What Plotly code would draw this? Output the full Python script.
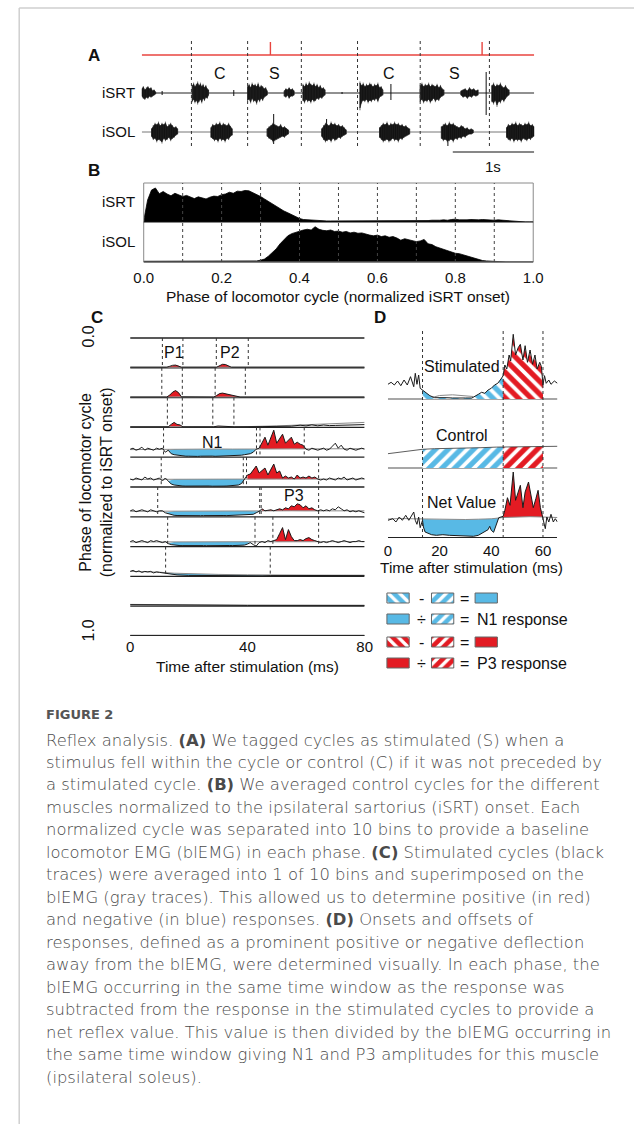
import plotly.graph_objects as go

W, H = 644, 1124
FIG_FONT = "Liberation Sans, Arial, Helvetica, sans-serif"
CAP_FONT = "DejaVu Sans, Open Sans, sans-serif"
BLUE = "#58B9E5"
RED = "#E31B23"
STIM_RED = "#E8453F"
GRAYTR = "#8a8a8a"
INK = "#111111"

# ===================== Panel A data (raw EMG) =====================
A_DURATION = 4.82                     # seconds shown
SCALE_BAR_S = 1.0
STIM_TIMES = [1.58, 4.18]
CYCLE_ONSETS = [0.61, 1.30, 1.96, 2.65, 3.42, 4.27]
CYCLE_TAGS = ["C", "S", "", "C", "S"]

ISRT_ON = [0.00, 0.62, 1.30, 1.75, 1.98, 2.68, 3.42, 3.92, 4.30]
ISRT_OFF = [0.17, 0.82, 1.54, 1.87, 2.25, 2.96, 3.71, 4.13, 4.51]
ISRT_UP = [
    [4, 6, 3, 5, 6, 4, 5, 2, 3, 1],
    [7, 9, 6, 8, 10, 7, 9, 6, 8, 5, 7, 4, 3],
    [6, 8, 5, 9, 7, 8, 6, 9, 5, 7, 6, 4, 5, 2],
    [2, 4, 3, 5, 3, 4, 2],
    [8, 6, 9, 7, 10, 8, 7, 9, 6, 8, 5, 7, 4, 5, 3],
    [10, 7, 9, 6, 8, 7, 9, 8, 6, 8, 7, 9, 5, 6, 3],
    [7, 9, 6, 8, 7, 9, 6, 8, 7, 6, 8, 5, 7, 4, 3],
    [2, 3, 4, 2, 5, 3, 4, 2, 3],
    [7, 9, 6, 8, 7, 9, 6, 5, 7, 4, 3],
]
ISRT_DN = [
    [3, 5, 6, 4, 5, 3, 4, 3, 2, 1],
    [8, 6, 9, 7, 10, 8, 6, 9, 5, 7, 4, 5, 2],
    [7, 6, 9, 5, 8, 7, 10, 6, 8, 5, 7, 4, 3, 2],
    [3, 4, 2, 5, 3, 3, 2],
    [7, 9, 6, 8, 7, 9, 6, 8, 7, 5, 6, 4, 5, 3, 2],
    [15, 9, 7, 8, 6, 9, 7, 8, 6, 7, 5, 8, 4, 3, 2],
    [8, 6, 9, 7, 8, 6, 9, 7, 5, 8, 6, 7, 4, 3, 2],
    [2, 4, 3, 5, 3, 4, 2, 3, 2],
    [8, 10, 7, 12, 8, 9, 6, 8, 5, 3, 2],
]
ISRT_SPIKE_T = [0.25, 1.13, 2.46, 3.06, 4.23]
ISRT_SPIKE_UP = [2, 3, 1, 9, 21]
ISRT_SPIKE_DN = [2, 3, 1, 7, 22]

ISOL_ON = [0.12, 0.85, 1.54, 2.21, 2.92, 3.68, 4.48]
ISOL_OFF = [0.44, 1.11, 1.80, 2.51, 3.29, 4.07, 4.82]
ISOL_UP = [
    [3, 6, 8, 7, 9, 6, 8, 7, 9, 5, 7, 8, 6, 4, 5, 3],
    [4, 7, 6, 8, 7, 9, 6, 8, 7, 6, 8, 5, 3],
    [3, 5, 6, 8, 7, 6, 5, 7, 4, 5, 3, 2],
    [3, 6, 8, 7, 6, 9, 7, 8, 6, 7, 5, 6, 4, 2],
    [4, 6, 8, 7, 9, 6, 8, 7, 9, 7, 8, 6, 7, 5, 6, 4, 3],
    [5, 7, 8, 6, 9, 7, 8, 6, 5, 4, 6, 5, 3, 4, 2, 3, 2],
    [4, 7, 6, 8, 7, 9, 6, 8, 7, 6, 8, 7, 9, 6, 7, 5],
]
ISOL_DN = [
    [4, 7, 6, 9, 7, 8, 10, 6, 8, 7, 5, 8, 6, 5, 3, 2],
    [5, 6, 8, 7, 9, 6, 8, 7, 9, 6, 7, 4, 3],
    [4, 6, 7, 9, 8, 7, 6, 5, 4, 5, 3, 2],
    [4, 7, 9, 8, 7, 9, 6, 8, 7, 5, 6, 4, 3, 2],
    [5, 7, 9, 8, 7, 9, 8, 6, 8, 7, 9, 6, 7, 5, 4, 3, 2],
    [6, 8, 7, 9, 8, 7, 9, 6, 7, 5, 6, 4, 5, 3, 2, 2, 1],
    [5, 7, 8, 6, 9, 7, 8, 7, 9, 6, 7, 8, 6, 7, 5, 4],
]
ISOL_SPIKE_T = [1.62, 2.27, 3.76]
ISOL_SPIKE_UP = [18, 13, 6]
ISOL_SPIKE_DN = [12, 5, 14]

# ===================== Panel B data (averaged control cycle) =====================
B_PHASE = [i / 100 for i in range(101)]
B_ISRT = [
    0.04, 0.62, 0.90, 0.96, 0.80, 0.86, 0.79, 0.74, 0.81, 0.76,
    0.72, 0.75, 0.70, 0.66, 0.71, 0.67, 0.65, 0.70, 0.73, 0.72,
    0.77, 0.79, 0.84, 0.81, 0.87, 0.86, 0.89, 0.88, 0.83, 0.79,
    0.72, 0.65, 0.58, 0.50, 0.44, 0.37, 0.31, 0.26, 0.20, 0.14,
    0.10, 0.07, 0.06, 0.05, 0.04, 0.04, 0.03, 0.03, 0.03, 0.03,
    0.03, 0.02, 0.02, 0.03, 0.02, 0.03, 0.04, 0.03, 0.02, 0.03,
    0.03, 0.02, 0.03, 0.02, 0.03, 0.03, 0.02, 0.03, 0.03, 0.04,
    0.03, 0.04, 0.03, 0.04, 0.05, 0.04, 0.05, 0.06, 0.05, 0.07,
    0.08, 0.06, 0.05, 0.06, 0.07, 0.06, 0.06, 0.07, 0.06, 0.06,
    0.05, 0.06, 0.05, 0.04, 0.05, 0.02, 0.01, 0.0, 0.0, 0.0,
    0.0,
]
B_ISOL = [
    0.02, 0.02, 0.02, 0.02, 0.02, 0.02, 0.02, 0.02, 0.02, 0.02,
    0.02, 0.02, 0.02, 0.02, 0.02, 0.02, 0.02, 0.02, 0.02, 0.02,
    0.02, 0.02, 0.02, 0.02, 0.02, 0.02, 0.02, 0.03, 0.03, 0.03,
    0.05, 0.08, 0.16, 0.26, 0.36, 0.50, 0.62, 0.72, 0.78, 0.82,
    0.86, 0.88, 0.90, 0.88, 0.97, 0.90, 0.87, 0.86, 0.88, 0.84,
    0.85, 0.82, 0.84, 0.80, 0.82, 0.79, 0.80, 0.76, 0.74, 0.72,
    0.74, 0.70, 0.72, 0.68, 0.70, 0.66, 0.60, 0.64, 0.62, 0.60,
    0.56, 0.58, 0.62, 0.50, 0.48, 0.42, 0.38, 0.34, 0.30, 0.28,
    0.24, 0.23, 0.20, 0.16, 0.12, 0.09, 0.06, 0.04, 0.03, 0.02,
    0.01, 0.0, 0.0, 0.0, 0.0, 0.0, 0.0, 0.0, 0.0, 0.0,
    0.0,
]
B_TICKS = [0.0, 0.2, 0.4, 0.6, 0.8, 1.0]
B_BIN_EDGES = [0.1, 0.2, 0.3, 0.4, 0.5, 0.6, 0.7, 0.8, 0.9]

# ===================== Panel C data (10 phase bins) =====================
C_TIME_MAX = 80
C_TICKS = [0, 40, 80]
C_BIN_LINES = [0.0, 0.1, 0.2, 0.3, 0.4, 0.5, 0.6, 0.7, 0.8, 0.9, 1.0]
C_GRID = list(range(0, 81))            # 1 ms sampling
C_GRID5 = list(range(0, 81, 5))        # 5 ms sampling for blEMG

BIN1_T = [0, 12.5, 13.5, 14.5, 15.5, 16.5, 17.5, 29.5, 30.5, 31.5, 32.5, 33.5, 34.5, 80]
BIN1_STIM = [0.6, 0.6, 1.5, 2.5, 2.7, 2.0, 0.6, 0.6, 2.0, 3.5, 3.3, 1.8, 0.6, 0.6]
BIN1_BASE_T = [0, 80]
BIN1_BASE = [0.6, 0.6]

BIN2_T = [0, 12.5, 13.5, 14.5, 15.5, 16.5, 17.5, 28.5, 29.5, 30.5, 31.5, 32.5, 33.5, 34.5, 35.5, 36.5, 37.5, 80]
BIN2_STIM = [0.6, 0.6, 2.5, 5.5, 7.0, 5.0, 0.8, 0.6, 2.0, 4.0, 4.5, 3.8, 3.0, 2.2, 1.5, 1.0, 0.6, 0.6]
BIN2_BASE_T = [0, 80]
BIN2_BASE = [0.6, 0.6]

BIN3_T = [0, 13, 14, 15, 16, 17, 18, 28.5, 30, 32, 34, 35.5, 45, 50, 55, 58, 60, 62, 64, 66, 68, 70, 75, 80]
BIN3_STIM = [0.6, 0.6, 3.0, 5.0, 3.0, 2.5, 0.6, 0.6, 1.4, 1.0, 0.8, 0.6, 0.8, 1.0, 1.2, 2.2, 1.5, 2.5, 1.6, 2.4, 1.8, 2.0, 2.5, 2.8]
BIN3_BASE_T = [0, 30, 40, 50, 60, 70, 80]
BIN3_BASE = [0.6, 0.6, 0.8, 1.5, 2.5, 3.8, 5.0]

BIN4_STIM = [
    8, 9, 7, 8, 10, 7, 9, 8, 7, 9, 8,
    9, 5, 7, 3.5, 2.5, 2, 1.5, 1.2, 1, 1,
    0.8, 1, 0.8, 1, 1.2, 0.9, 1, 1.1, 0.9, 1,
    1, 1.1, 0.9, 1, 1.2, 1.3, 1.5, 2, 2.5, 3,
    3.5, 5, 8, 9, 14, 20, 12, 20, 27, 14,
    18, 23, 14, 17, 20, 13, 15, 13, 12, 8,
    7, 9, 8, 7, 8, 9, 7, 8, 11, 14,
    9, 12, 8, 7, 9, 8, 7, 8, 9, 8,
]
BIN4_BASE = [7.6, 7.8, 8, 7.9, 8.1, 8, 8.2, 8.1, 8.2, 8.3, 8.2, 8.4, 8.3, 8.5, 8.4, 8.6, 8.5]

BIN5_STIM = [
    8, 7, 9, 8, 7, 10, 8, 9, 7, 8, 9,
    6, 9, 6, 3, 2, 1.5, 1, 1, 0.9, 1,
    0.8, 0.9, 1, 0.8, 1, 0.9, 1, 0.8, 1, 0.9,
    1, 0.9, 1, 1.1, 1.3, 1.6, 2, 3.5, 8, 12,
    13, 17, 21, 14, 17, 19, 12, 18, 23, 14,
    16, 9, 11, 9, 10, 8, 12, 9, 10, 9,
    11, 9, 10, 8, 7, 8, 7, 9, 8, 7,
    9, 8, 10, 7, 8, 9, 7, 8, 9, 8,
]
BIN5_BASE = [7.6, 7.7, 7.7, 7.8, 7.7, 7.8, 7.8, 7.9, 7.8, 7.9, 8, 7.9, 8, 8.1, 8, 8.1, 8]

BIN6_STIM = [
    6, 7, 5, 6, 7, 6, 5, 7, 6, 5, 6,
    6, 4, 3, 2, 1.5, 1.3, 1.2, 1.3, 1.2, 1.3,
    1.2, 1.3, 1.2, 1.1, 1.2, 1.3, 1.2, 1.3, 1.2, 1.3,
    1.2, 1.3, 1.2, 1.3, 1.4, 1.3, 1.4, 1.5, 1.6, 1.8,
    2, 2.5, 4, 5.5, 8, 6, 6.5, 7, 6, 7,
    8, 7, 9, 8, 11, 10, 13, 12, 9, 11,
    8, 9, 7, 6, 7, 6, 7, 6, 8, 7,
    10, 8, 6, 7, 5, 6, 5, 6, 5, 4,
]
BIN6_BASE = [5.5, 5.6, 5.7, 5.6, 5.7, 5.8, 5.7, 5.8, 5.9, 5.8, 5.9, 6, 5.9, 6, 6.1, 6, 6]

BIN7_STIM = [
    5, 6, 4, 5, 6, 5, 4, 6, 5, 6, 5, 4,
    5, 3, 2, 1.5, 1.2, 1, 1, 1.1, 1,
    1, 0.9, 1, 1.1, 1, 0.9, 1, 1, 1.1, 1,
    1, 0.9, 1, 1.1, 1, 1, 1.2, 1.3, 1.5, 2.5,
    4, 2, 0.5, 4, 5, 4, 6, 5, 6, 7,
    13, 19, 7, 17, 10, 6, 6, 7, 6, 8,
    9, 7, 6, 5, 4, 5, 4, 5, 6, 5,
    4, 5, 6, 5, 4, 5, 5, 6, 5, 5,
]
BIN7_BASE = [4.6, 4.7, 4.7, 4.6, 4.7, 4.8, 4.7, 4.8, 4.8, 4.9, 4.8, 4.9, 5, 4.9, 5, 5.1, 5]

BIN8_T = [0, 1, 2, 3, 4, 5, 6, 7, 8, 9, 10, 11, 12, 14, 16, 20, 25, 30, 35, 40, 45, 48, 55, 65, 80]
BIN8_STIM = [5, 6, 4.5, 5.5, 4, 5, 4.5, 5, 3.5, 4.5, 4, 3.5, 3, 2, 1.5, 1, 0.8, 0.5, 0.5, 0.5, 0.6, 0.8, 0.9, 1, 1]
BIN8_BASE_T = [0, 5, 10, 15, 20, 30, 40, 50, 60, 80]
BIN8_BASE = [5, 4.8, 4.2, 3.2, 2.6, 2, 1.6, 1.3, 1.1, 1]

BIN9_T = [0, 10, 20, 40, 80]
BIN9_STIM = [1.5, 1.2, 1.0, 0.8, 0.8]
BIN9_BASE_T = [0, 20, 40, 80]
BIN9_BASE = [1.8, 1.3, 1.0, 0.8]

BIN10_T = [0, 80]
BIN10_STIM = [0.6, 0.6]
BIN10_BASE_T = [0, 80]
BIN10_BASE = [0.6, 0.6]

# response windows (start ms, end ms, +1 excitation / -1 inhibition) per bin
BIN_WINDOWS = [
    [(12.5, 17.5, 1), (29.5, 34.5, 1)],
    [(12.5, 17.5, 1), (28.5, 37.5, 1)],
    [(13, 18, 1), (28.5, 35.5, 1)],
    [(13, 43, -1), (44, 60, 1)],
    [(13, 39, -1), (40, 64, 1)],
    [(12, 44, -1), (45, 64, 1)],
    [(13, 42, -1), (49, 64, 1)],
    [(12, 48, -1)],
    [],
    [],
]
BIN_MARKERS = [
    [11, 18, 29.4, 40.3],
    [10.8, 17.8, 29, 39.3],
    [12.7, 17.8, 28.2, 35.4],
    [11.4, 43.1, 44.3, 59.4],
    [10.6, 38.6, 39.7, 64.3],
    [9.4, 44.2, 44.7, 64.3],
    [12.8, 42.6, 48.7, 64.3],
    [12.1, 47.8],
    [],
    [],
]
C_LABELS = [("P1", 15, 0.05), ("P2", 34, 0.05), ("N1", 28, 0.35), ("P3", 56, 0.53)]

# ===================== Panel D data (one bin, N1 / P3) =====================
D_TIME_MAX = 65.6
D_TICKS = [0, 20, 40, 60]
D_N1 = (13.4, 44.6)
D_P3 = (44.6, 60.0)

D_STIM_T = [0, 1.25, 2.5, 3.75, 5, 6.25, 7.5, 8.75, 10, 10.6,
            11.25, 11.9, 12.5, 13.4, 14.4, 15.3, 16.25, 18.1, 20, 22.5,
            25, 27.5, 30, 32.5, 33.75, 35, 36.25, 37.5, 38.75, 40,
            41.25, 42.5, 43.75, 44.6, 45.25, 46, 46.9, 47.5, 48.5, 49.4,
            50.4, 51.25, 52.25, 53.1, 54, 55, 56, 56.9, 57.75, 58.75,
            59.4, 60, 60.6, 61.25, 62.25, 63.1, 64.4, 65.6]
D_STIM_V = [14.7, 16.7, 14, 18, 13.3, 19, 14, 22.3, 12.3, 25.7,
            14.7, 24, 10.7, 9, 6.7, 4.7, 3.3, 1.3, 1, 1.3,
            1, 1.3, 1, 1, 3.3, 4.7, 6.7, 5.7, 9, 10.7,
            14, 15.7, 20, 23.3, 34, 30, 44, 38, 64.7, 44,
            51.3, 54.7, 39, 53.3, 36.7, 49, 34.7, 44, 30, 36.7,
            32.3, 14, 23.3, 15.7, 19, 14.7, 18, 15.7]
D_STIM_BASE_T = [17, 20, 25, 30, 33]
D_STIM_BASE = [1.5, 3.5, 4.2, 3.6, 2.5]

D_CTRL_T = [0, 4, 8, 13.4, 18, 24, 30, 36, 42, 44.6, 50, 55, 60, 65.6]
D_CTRL_V = [14.3, 15.6, 17, 18.7, 19.3, 19.5, 20.1, 20.3, 20.9, 21, 21.3, 21.2, 21.6, 21.7]

D_NET_T = [0, 1.9, 3.1, 4.4, 5.6, 6.9, 8.1, 9.4, 10, 10.6,
           11.25, 11.9, 12.5, 13.4, 13.75, 14.4, 15.6, 16.9, 18.75, 21.25,
           23.75, 26.25, 28.75, 31.25, 33.1, 35, 36.25, 37.5, 38.75, 39.4,
           40, 40.9, 41.6, 42.25, 42.9, 43.75, 44.6, 45.25, 46.25, 47.25,
           48.5, 49.4, 50.25, 51.25, 52.25, 53.1, 54.4, 55.4, 56.25, 57.25,
           58.1, 59, 59.75, 60.25, 60.9, 61.5, 62.25, 63.1, 64, 64.75,
           65.6]
D_NET_V = [16.7, 18.3, 15, 20, 16.7, 21.7, 16.7, 23.3, 25, 16.7,
           12.7, 20, 9.3, 16.7, 10, 5, 3.3, 2.3, 1.7, 2.3,
           1.7, 1.3, 0.7, 0.3, 0.7, 1.7, 3.3, 5, 7.3, 10.7,
           6.7, 4.7, 10.7, 15, 19.3, 20, 20.7, 26.7, 39.3, 31.7,
           65, 36.7, 43.3, 51.7, 29.3, 45, 55, 40, 29.3, 38.3,
           46.7, 29.3, 21.7, 15, 8.3, 20, 15, 22.7, 15, 18.3,
           15]
D_NET_BASE_T = [0, 5, 10, 13.4, 20, 25, 30, 35, 40, 44.6, 50, 55, 60, 65.6]
D_NET_BASE = [18, 18.5, 18.2, 18, 17.6, 17.8, 17.5, 17.8, 18.2, 19.5, 20, 20.3, 20, 19.5]

CAPTION_TITLE = "FIGURE 2"
CAPTION_LINES = [
    "Reflex analysis. <b>(A)</b> We tagged cycles as stimulated (S) when a",
    "stimulus fell within the cycle or control (C) if it was not preceded by",
    "a stimulated cycle. <b>(B)</b> We averaged control cycles for the different",
    "muscles normalized to the ipsilateral sartorius (iSRT) onset. Each",
    "normalized cycle was separated into 10 bins to provide a baseline",
    "locomotor EMG (blEMG) in each phase. <b>(C)</b> Stimulated cycles (black",
    "traces) were averaged into 1 of 10 bins and superimposed on the",
    "blEMG (gray traces). This allowed us to determine positive (in red)",
    "and negative (in blue) responses. <b>(D)</b> Onsets and offsets of",
    "responses, defined as a prominent positive or negative deflection",
    "away from the blEMG, were determined visually. In each phase, the",
    "blEMG occurring in the same time window as the response was",
    "subtracted from the response in the stimulated cycles to provide a",
    "net reflex value. This value is then divided by the blEMG occurring in",
    "the same time window giving N1 and P3 amplitudes for this muscle",
    "(ipsilateral soleus).",
]

# ===================== layout helpers =====================
def dx(x0, x1):
    return [x0 / W, x1 / W]


def dy(top, bot):
    return [1 - bot / H, 1 - top / H]


fig = go.Figure()


def add(x, y, ax="", **kw):
    kw.setdefault("mode", "lines")
    fig.add_trace(go.Scatter(x=x, y=y, xaxis="x" + ax, yaxis="y" + ax,
                             showlegend=False, hoverinfo="skip", **kw))


annotations = []
shapes = []


def T(text, x, y, size=16, xanchor="center", bold=False, color=INK, angle=0,
      family=FIG_FONT, xref="paper", yref="paper", yanchor="middle", yshift=0, weight=None):
    font = dict(family=family, size=size, color=color)
    if weight is not None:
        font["weight"] = weight
    annotations.append(dict(
        text=("<b>%s</b>" % text) if bold else text,
        x=(x / W) if xref == "paper" else x,
        y=(1 - y / H) if yref == "paper" else y,
        xref=xref, yref=yref, xanchor=xanchor, yanchor=yanchor, yshift=yshift,
        showarrow=False, textangle=angle, font=font))


# ===================== Panel A =====================
A_STIM_Y, A_ISRT_Y, A_ISOL_Y, A_BAR_Y = 55, 93, 132, 152
A_STIM_H = 13


def burst_polys(ons, offs, ups, dns, base):
    xs, ys = [], []
    for t0, t1, up, dn in zip(ons, offs, ups, dns):
        xu = [t0 + (t1 - t0) * i / (len(up) - 1) for i in range(len(up))]
        xd = [t0 + (t1 - t0) * i / (len(dn) - 1) for i in range(len(dn))]
        xs += xu + xd[::-1] + [xu[0], None]
        ys += [base - u for u in up] + [base + d for d in dn[::-1]] + [base - up[0], None]
    return xs, ys


def burst_strokes(ons, offs, ups, dns, base):
    # vertical strokes between the upper and lower excursions (EMG look)
    xs, ys = [], []
    for t0, t1, up, dn in zip(ons, offs, ups, dns):
        n = min(len(up), len(dn))
        for i in range(n):
            t = t0 + (t1 - t0) * i / (n - 1)
            xs += [t, t, None]
            ys += [base - up[i] * 1.15, base + dn[i] * 1.15, None]
    return xs, ys


def spikes(ts, ups, dns, base):
    xs, ys = [], []
    for t, u, d in zip(ts, ups, dns):
        xs += [t, t, None]
        ys += [base - u, base + d, None]
    return xs, ys


add([0, A_DURATION], [A_STIM_Y, A_STIM_Y], line=dict(color=STIM_RED, width=1.4))
sx, sy = spikes(STIM_TIMES, [A_STIM_H] * len(STIM_TIMES), [0] * len(STIM_TIMES), A_STIM_Y)
add(sx, sy, line=dict(color=STIM_RED, width=1.4))
add([0, A_DURATION], [A_ISRT_Y, A_ISRT_Y], line=dict(color="#222", width=1))
add([0, A_DURATION], [A_ISOL_Y, A_ISOL_Y], line=dict(color="#777", width=1))
for ons, offs, ups, dns, base in [(ISRT_ON, ISRT_OFF, ISRT_UP, ISRT_DN, A_ISRT_Y),
                                  (ISOL_ON, ISOL_OFF, ISOL_UP, ISOL_DN, A_ISOL_Y)]:
    bx, by = burst_polys(ons, offs, ups, dns, base)
    add(bx, by, fill="toself", fillcolor="#111", line=dict(color="#111", width=0.6))
    kx, ky = burst_strokes(ons, offs, ups, dns, base)
    add(kx, ky, line=dict(color="#222", width=0.7))
for ts, us, ds, base in [(ISRT_SPIKE_T, ISRT_SPIKE_UP, ISRT_SPIKE_DN, A_ISRT_Y),
                         (ISOL_SPIKE_T, ISOL_SPIKE_UP, ISOL_SPIKE_DN, A_ISOL_Y)]:
    kx, ky = spikes(ts, us, ds, base)
    add(kx, ky, line=dict(color="#111", width=1))
add([A_DURATION - SCALE_BAR_S, A_DURATION], [A_BAR_Y, A_BAR_Y], line=dict(color="#111", width=1.2))
T("1s", A_DURATION - SCALE_BAR_S / 2, 166, size=15, xref="x")
for t in CYCLE_ONSETS:
    shapes.append(dict(type="line", xref="x", yref="paper", x0=t, x1=t,
                       y0=1 - 146 / H, y1=1 - 40 / H,
                       line=dict(color="#333", width=1, dash="dot")))
for i, tag in enumerate(CYCLE_TAGS):
    if tag:
        T(tag, (CYCLE_ONSETS[i] + CYCLE_ONSETS[i + 1]) / 2, 74, size=16, xref="x")
T("A", 87, 56, size=17, bold=True)
T("iSRT", 131, A_ISRT_Y, size=15, xanchor="right")
T("iSOL", 131, A_ISOL_Y, size=15, xanchor="right")

# ===================== Panel B =====================
add(B_PHASE, B_ISRT, ax="2", fill="tozeroy", fillcolor="#000", line=dict(color="#000", width=0.8))
add(B_PHASE, B_ISOL, ax="3", fill="tozeroy", fillcolor="#000", line=dict(color="#000", width=0.8))
shapes.append(dict(type="rect", xref="paper", yref="paper", x0=138 / W, x1=540 / W,
                   y0=1 - 262 / H, y1=1 - 183 / H, line=dict(color="#8a8a8a", width=1)))
shapes.append(dict(type="line", xref="paper", yref="paper", x0=138 / W, x1=540 / W,
                   y0=1 - 222 / H, y1=1 - 222 / H, line=dict(color="#111", width=1)))
shapes.append(dict(type="line", xref="paper", yref="paper", x0=138 / W, x1=540 / W,
                   y0=1 - 262 / H, y1=1 - 262 / H, line=dict(color="#444", width=1)))
for p in B_BIN_EDGES:
    shapes.append(dict(type="line", xref="x3", yref="paper", x0=p, x1=p,
                       y0=1 - 262 / H, y1=1 - 183 / H,
                       line=dict(color="#444", width=1, dash="dot")))
T("B", 87, 170, size=17, bold=True)
T("iSRT", 131, 201, size=15, xanchor="right")
T("iSOL", 131, 241, size=15, xanchor="right")
T("Phase of locomotor cycle (normalized iSRT onset)", 339, 297, size=15.5)

# ===================== Panel C =====================
C_GAIN = 1 / 298.0      # phase units per amplitude unit

bins = [
    (BIN1_T, BIN1_STIM, BIN1_BASE_T, BIN1_BASE),
    (BIN2_T, BIN2_STIM, BIN2_BASE_T, BIN2_BASE),
    (BIN3_T, BIN3_STIM, BIN3_BASE_T, BIN3_BASE),
    (C_GRID, BIN4_STIM, C_GRID5, BIN4_BASE),
    (C_GRID, BIN5_STIM, C_GRID5, BIN5_BASE),
    (C_GRID, BIN6_STIM, C_GRID5, BIN6_BASE),
    (C_GRID, BIN7_STIM, C_GRID5, BIN7_BASE),
    (BIN8_T, BIN8_STIM, BIN8_BASE_T, BIN8_BASE),
    (BIN9_T, BIN9_STIM, BIN9_BASE_T, BIN9_BASE),
    (BIN10_T, BIN10_STIM, BIN10_BASE_T, BIN10_BASE),
]


def window_poly(tb, vb, tg, vg, a, b, base, gain):
    xs, ys = [], []
    for t, v in zip(tb, vb):
        if a <= t <= b:
            xs.append(t)
            ys.append(base - v * gain)
    for t, v in reversed(list(zip(tg, vg))):
        if a <= t <= b:
            xs.append(t)
            ys.append(base - v * gain)
    return xs, ys


for p in C_BIN_LINES:
    add([0, C_TIME_MAX], [p, p], ax="4", line=dict(color="#222", width=1.3))

for k, (tb, vb, tg, vg) in enumerate(bins):
    base = C_BIN_LINES[k + 1]
    for (a, b, sign) in BIN_WINDOWS[k]:
        px_, py_ = window_poly(tb, vb, tg, vg, a, b, base, C_GAIN)
        add(px_, py_, ax="4", fill="toself", fillcolor=RED if sign > 0 else BLUE,
            line=dict(width=0))
    add(tg, [base - v * C_GAIN for v in vg], ax="4", line=dict(color=GRAYTR, width=1))
    add(tb, [base - v * C_GAIN for v in vb], ax="4", line=dict(color="#1a1a1a", width=1))
    for t in BIN_MARKERS[k]:
        shapes.append(dict(type="line", xref="x4", yref="y4", x0=t, x1=t,
                           y0=C_BIN_LINES[k], y1=base,
                           line=dict(color="#333", width=1, dash="dot")))

for txt, t, ph in C_LABELS:
    T(txt, t, ph, size=16, xref="x4", yref="y4")
T("C", 90, 318, size=17, bold=True)
T("0.0", 80, 0.0, size=16, angle=-90, yref="y4", yshift=1)
T("1.0", 80, 1.0, size=16, angle=-90, yref="y4", yshift=5)
T("Phase of locomotor cycle<br>(normalized to iSRT onset)", 89, 482, size=16, angle=-90)
T("Time after stimulation (ms)", 245, 666, size=15.5)

# ===================== Panel D =====================
D_ROW_BASE = [399, 468, 537]     # Stimulated, Control, Net value (layout offsets)
D_LABELS = ["Stimulated", "Control", "Net Value"]


def pat(color, shape, size=9):
    return dict(shape=shape, fgcolor="white", bgcolor=color, size=size, solidity=0.42,
                fillmode="replace")


for base in D_ROW_BASE[:2]:
    add([0, D_TIME_MAX], [base, base], ax="5", line=dict(color="#8a8a8a", width=1.6))

bs = D_ROW_BASE[0]
for (a, b), col in [(D_N1, BLUE), (D_P3, RED)]:
    px_, py_ = window_poly(D_STIM_T, D_STIM_V, [a, b], [0, 0], a, b, bs, 1)
    add(px_, py_, ax="5", fill="toself", fillcolor=col, fillpattern=pat(col, "\\"),
        line=dict(width=0))
add(D_STIM_BASE_T, [bs - v for v in D_STIM_BASE], ax="5", line=dict(color=GRAYTR, width=1))
add(D_STIM_T, [bs - v for v in D_STIM_V], ax="5", line=dict(color="#1a1a1a", width=1))

bc = D_ROW_BASE[1]
for (a, b), col in [(D_N1, BLUE), (D_P3, RED)]:
    px_, py_ = window_poly(D_CTRL_T, D_CTRL_V, [a, b], [0, 0], a, b, bc, 1)
    add(px_, py_, ax="5", fill="toself", fillcolor=col, fillpattern=pat(col, "/"),
        line=dict(width=0))
add(D_CTRL_T, [bc - v for v in D_CTRL_V], ax="5", line=dict(color="#333", width=0.8))

bn = D_ROW_BASE[2]
for (a, b), col in [(D_N1, BLUE), (D_P3, RED)]:
    px_, py_ = window_poly(D_NET_T, D_NET_V, D_NET_BASE_T, D_NET_BASE, a, b, bn, 1)
    add(px_, py_, ax="5", fill="toself", fillcolor=col, line=dict(width=0))
add(D_NET_BASE_T, [bn - v for v in D_NET_BASE], ax="5", line=dict(color=GRAYTR, width=1))
add(D_NET_T, [bn - v for v in D_NET_V], ax="5", line=dict(color="#1a1a1a", width=1))

for t in [D_N1[0], D_N1[1], D_P3[1]]:
    shapes.append(dict(type="line", xref="x5", yref="y5", x0=t, x1=t, y0=331, y1=537,
                       line=dict(color="#333", width=1, dash="dot")))
T("D", 382, 318, size=17, bold=True)
for lab, yy in zip(D_LABELS, [366, 435, 502]):
    T(lab, 466, yy, size=16)
T("Time after stimulation (ms)", 476, 567, size=15.5)

LEG_ROWS = [
    [(BLUE, "\\"), "-", (BLUE, "/"), "=", (BLUE, "")],
    [(BLUE, ""), "÷", (BLUE, "/"), "=", "N1 response"],
    [(RED, "\\"), "-", (RED, "/"), "=", (RED, "")],
    [(RED, ""), "÷", (RED, "/"), "=", "P3 response"],
]
LEG_Y = [598, 619, 642, 663]
LEG_BOX_X = [389, 435, 480]
LEG_SYM_X = [425, 469]
for row, yy in zip(LEG_ROWS, LEG_Y):
    boxes = [row[0], row[2], row[4]]
    for bx0, item in zip(LEG_BOX_X, boxes):
        if isinstance(item, tuple):
            col, shp = item
            kw = dict(fill="toself", fillcolor=col, line=dict(color="#666", width=1))
            if shp:
                kw["fillpattern"] = pat(col, shp, 8)
            add([bx0, bx0 + 23, bx0 + 23, bx0, bx0], [yy - 5, yy - 5, yy + 5, yy + 5, yy - 5],
                ax="6", **kw)
        else:
            T(item, bx0, yy, size=16, xanchor="left")
    T(row[1], LEG_SYM_X[0], yy, size=16)
    T(row[3], LEG_SYM_X[1], yy, size=16)

# ===================== caption =====================
T(CAPTION_TITLE, 35, 714, size=13, xanchor="left", bold=True, color="#555", family=CAP_FONT)
for i, line in enumerate(CAPTION_LINES):
    T(line, 35, 740 + i * 22.47, size=16.4, xanchor="left", color="#4a4a4a",
      family=CAP_FONT, weight=300)

shapes.append(dict(type="line", xref="paper", yref="paper", x0=9.5 / W, x1=9.5 / W,
                   y0=0, y1=1 - 8 / H, line=dict(color="#cfcfcf", width=1.5)))
shapes.append(dict(type="line", xref="paper", yref="paper", x0=9.5 / W, x1=1,
                   y0=1 - 8 / H, y1=1 - 8 / H, line=dict(color="#cfcfcf", width=1.5)))

hidden = dict(visible=False, fixedrange=True, showgrid=False, zeroline=False)
tickfont = dict(family=FIG_FONT, size=15, color=INK)
fig.update_layout(
    width=W, height=H, margin=dict(l=0, r=0, t=0, b=0),
    paper_bgcolor="white", plot_bgcolor="rgba(0,0,0,0)", showlegend=False,
    xaxis=dict(hidden, domain=dx(136, 541), range=[0, A_DURATION], anchor="y"),
    yaxis=dict(hidden, domain=dy(36, 160), range=[160, 36], anchor="x"),
    xaxis2=dict(hidden, domain=dx(138, 540), range=[0, 1], anchor="y2"),
    yaxis2=dict(hidden, domain=dy(183, 222), range=[0, 1.1], anchor="x2"),
    xaxis3=dict(domain=dx(138, 540), range=[0, 1], anchor="y3", showgrid=False,
                zeroline=False, showline=False, tickvals=B_TICKS,
                ticktext=["%.1f" % v for v in B_TICKS], ticks="outside", ticklen=2,
                tickcolor="rgba(0,0,0,0)", tickfont=tickfont, fixedrange=True),
    yaxis3=dict(hidden, domain=dy(222, 262), range=[0, 1.1], anchor="x3"),
    xaxis4=dict(domain=dx(124, 366), range=[0, C_TIME_MAX], anchor="y4", showgrid=False,
                zeroline=False, showline=False, tickvals=C_TICKS, ticks="",
                tickfont=tickfont, fixedrange=True),
    yaxis4=dict(hidden, domain=dy(330, 636), range=[1.0, 1.0 - 306 / 298.0], anchor="x4"),
    xaxis5=dict(domain=dx(390, 565), range=[0, D_TIME_MAX], anchor="y5", showgrid=False,
                zeroline=False, showline=True, linecolor="#222", linewidth=1.2,
                tickvals=D_TICKS, ticks="", tickfont=tickfont, fixedrange=True),
    yaxis5=dict(hidden, domain=dy(325, 537), range=[537, 325], anchor="x5"),
    xaxis6=dict(hidden, domain=[0, 1], range=[0, W], anchor="y6"),
    yaxis6=dict(hidden, domain=[0, 1], range=[H, 0], anchor="x6"),
    annotations=annotations, shapes=shapes,
)

fig.write_html("out.html", config={"displayModeBar": False},
               post_script="document.body.style.margin='0px';document.body.style.padding='0px';")
